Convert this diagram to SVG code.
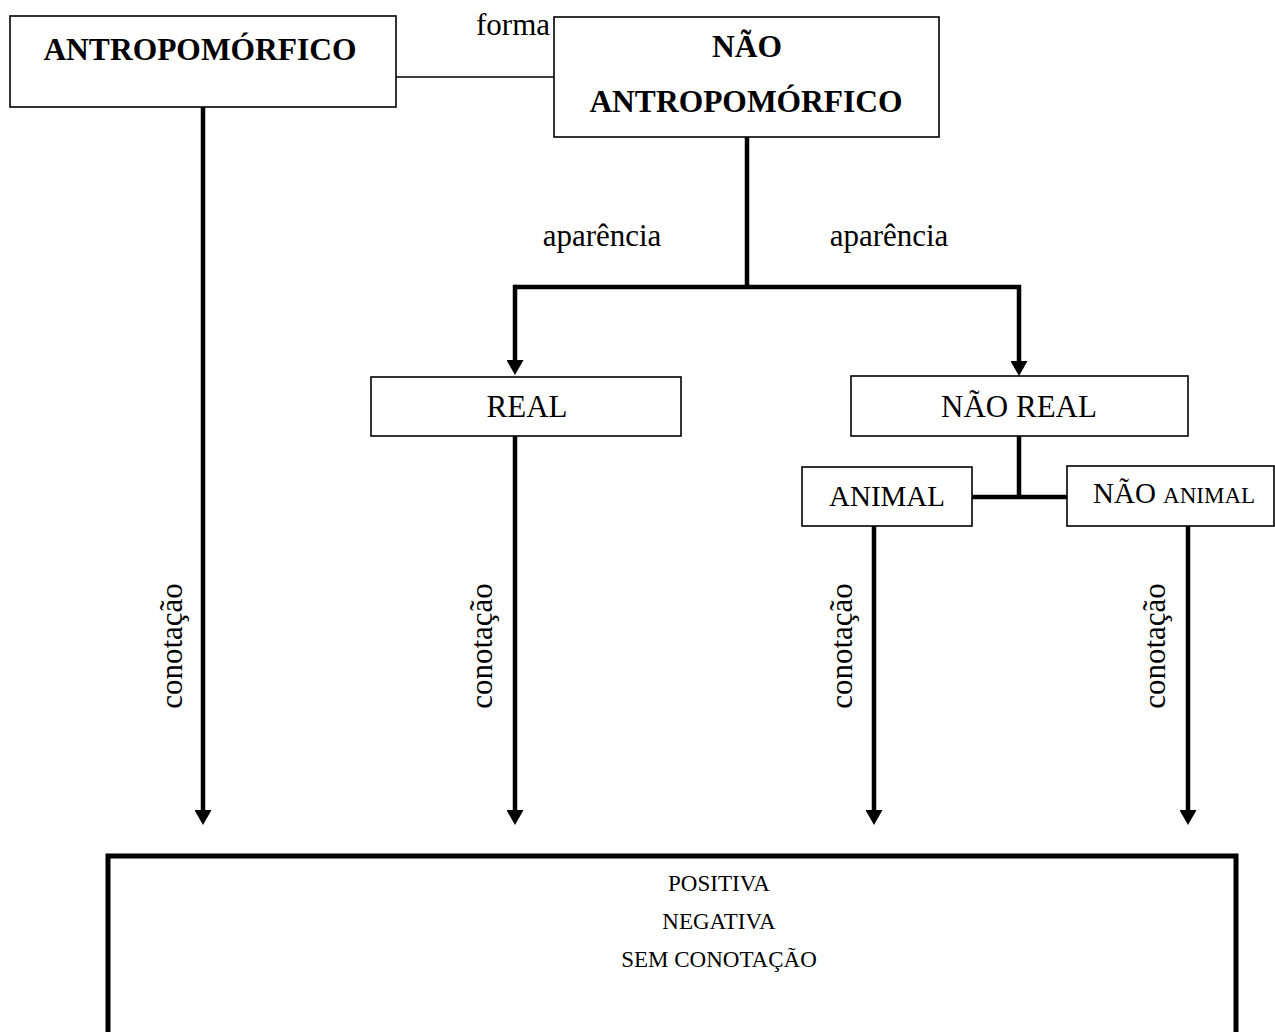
<svg xmlns="http://www.w3.org/2000/svg" width="1275" height="1032" viewBox="0 0 1275 1032">
<style>
text{font-family:"Liberation Serif","Times New Roman",serif;fill:#000}
.box{fill:#fff;stroke:#000;stroke-width:1.6}
.b{font-weight:bold;font-size:31.5px;text-anchor:middle}
.n{font-size:31px;text-anchor:middle}
.s{font-size:29px;text-anchor:middle}
.c{font-size:31px;text-anchor:middle}
.k{font-size:23px;text-anchor:middle}
.thick{stroke:#000;stroke-width:4.5;fill:none}
.thin{stroke:#000;stroke-width:1.6;fill:none}
</style>
<defs>
<marker id="ah" markerUnits="userSpaceOnUse" markerWidth="16" markerHeight="17" viewBox="0 0 15 17" refX="0" refY="8.5" orient="auto">
<path d="M0,0 L15,8.5 L0,17 z" fill="#000"/>
</marker>
</defs>
<g id="connectors">
<line class="thin" x1="396" y1="77" x2="554" y2="77"/>
<text x="513" y="35" class="n">forma</text>
<line class="thick" x1="747" y1="137" x2="747" y2="287"/>
<polyline class="thick" points="515,287 1019,287 1019,361" marker-end="url(#ah)"/>
<polyline class="thick" points="517,287 515,287 515,360" marker-end="url(#ah)"/>
<text x="602" y="246" class="n">aparência</text>
<text x="889" y="246" class="n">aparência</text>
<line class="thick" x1="1019" y1="436" x2="1019" y2="497"/>
<line class="thick" x1="972" y1="497" x2="1067" y2="497"/>
<line class="thick" x1="203" y1="107" x2="203" y2="810" marker-end="url(#ah)"/>
<line class="thick" x1="515" y1="436" x2="515" y2="810" marker-end="url(#ah)"/>
<line class="thick" x1="874" y1="526" x2="874" y2="810" marker-end="url(#ah)"/>
<line class="thick" x1="1188" y1="526" x2="1188" y2="810" marker-end="url(#ah)"/>
<text class="c" transform="translate(182,646) rotate(-90)">conotação</text>
<text class="c" transform="translate(492,646) rotate(-90)">conotação</text>
<text class="c" transform="translate(852,646) rotate(-90)">conotação</text>
<text class="c" transform="translate(1165,646) rotate(-90)">conotação</text>
</g>
<g id="antropomorfico">
<rect class="box" x="10" y="16" width="386" height="91"/>
<text x="200" y="60" class="b">ANTROPOMÓRFICO</text>
</g>
<g id="nao-antropomorfico">
<rect class="box" x="554" y="17" width="385" height="120"/>
<text x="747" y="57" class="b">NÃO</text>
<text x="746" y="112" class="b">ANTROPOMÓRFICO</text>
</g>
<g id="real">
<rect class="box" x="371" y="377" width="310" height="59"/>
<text x="527" y="417" class="n">REAL</text>
</g>
<g id="nao-real">
<rect class="box" x="851" y="376" width="337" height="60"/>
<text x="1019" y="417" class="n">NÃO REAL</text>
</g>
<g id="animal">
<rect class="box" x="802" y="467" width="170" height="59"/>
<text x="887" y="506" class="s">ANIMAL</text>
</g>
<g id="nao-animal">
<rect class="box" x="1067" y="466" width="207" height="60"/>
<text x="1093" y="503" style="font-size:29px">NÃO <tspan style="font-size:23px">ANIMAL</tspan></text>
</g>
<g id="conotacao-box">
<rect x="108" y="856" width="1128" height="200" fill="#fff" stroke="#000" stroke-width="5"/>
<text x="719" y="891" class="k">POSITIVA</text>
<text x="719" y="929" class="k">NEGATIVA</text>
<text x="719" y="967" class="k">SEM CONOTAÇÃO</text>
</g>
</svg>
